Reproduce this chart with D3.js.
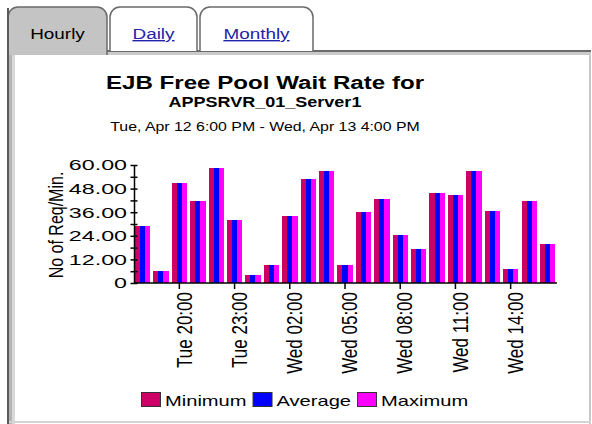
<!DOCTYPE html>
<html>
<head>
<meta charset="utf-8">
<script src="https://cdn.jsdelivr.net/npm/d3@7"></script>
<style>
  body { margin: 0; background: #fff; }
  svg { display: block; font-family: "Liberation Sans", Arial, sans-serif; }
</style>
</head>
<body>
<svg width="592" height="424"></svg>
<script>
//Chart data
const hours = ["Tue 18:00", "Tue 19:00", "Tue 20:00", "Tue 21:00", "Tue 22:00", "Tue 23:00",
    "Wed 00:00", "Wed 01:00", "Wed 02:00", "Wed 03:00", "Wed 04:00", "Wed 05:00",
    "Wed 06:00", "Wed 07:00", "Wed 08:00", "Wed 09:00", "Wed 10:00", "Wed 11:00",
    "Wed 12:00", "Wed 13:00", "Wed 14:00", "Wed 15:00", "Wed 16:00"];
const tickHours = ["Tue 20:00", "Tue 23:00", "Wed 02:00", "Wed 05:00", "Wed 08:00", "Wed 11:00", "Wed 14:00"];
const minimum = [29.0, 6.1, 51.0, 41.8, 58.3, 31.9, 3.9, 9.2, 34.2, 53.0, 56.9, 9.2, 35.9, 42.5, 24.2, 17.5, 45.6, 44.9, 56.9, 36.4, 7.0, 41.8, 19.7];
const average = [29.0, 6.1, 51.0, 41.8, 58.3, 31.9, 3.9, 9.2, 34.2, 53.0, 56.9, 9.2, 35.9, 42.5, 24.2, 17.5, 45.6, 44.9, 56.9, 36.4, 7.0, 41.8, 19.7];
const maximum = [29.0, 6.1, 51.0, 41.8, 58.3, 31.9, 3.9, 9.2, 34.2, 53.0, 56.9, 9.2, 35.9, 42.5, 24.2, 17.5, 45.6, 44.9, 56.9, 36.4, 7.0, 41.8, 19.7];
const seriesNames = ["Minimum", "Average", "Maximum"];
const seriesColors = ["#CC0066", "#0000FF", "#FF00FF"];
const yMajorTicks = [0, 12, 24, 36, 48, 60];
const yMinorTicks = [6, 18, 30, 42, 54];
const tabNames = ["Hourly", "Daily", "Monthly"];
const titleLines = ["EJB Free Pool Wait Rate for", "APPSRVR_01_Server1", "Tue, Apr 12 6:00 PM - Wed, Apr 13 4:00 PM"];

const svg = d3.select("svg");

//The original picture is stretched sideways, so widen text to match
function stretch(sel, k) {
    sel.each(function() {
        const w = this.getComputedTextLength();
        d3.select(this).attr("textLength", w * k).attr("lengthAdjust", "spacingAndGlyphs");
    });
}

//Panel frame
svg.append("rect").attr("x", 7).attr("y", 50).attr("width", 584).attr("height", 373).attr("fill", "#fff");
svg.append("rect").attr("x", 7).attr("y", 50).attr("width", 584).attr("height", 2).attr("fill", "#6a6a6a");
svg.append("rect").attr("x", 9).attr("y", 52).attr("width", 582).attr("height", 3).attr("fill", "#cacaca");
svg.append("rect").attr("x", 7).attr("y", 50).attr("width", 2).attr("height", 374).attr("fill", "#5a5a5a");
svg.append("rect").attr("x", 9).attr("y", 50).attr("width", 3).attr("height", 374).attr("fill", "#b4b4b4");
svg.append("rect").attr("x", 12).attr("y", 50).attr("width", 3).attr("height", 374).attr("fill", "#d8d8d8");
svg.append("rect").attr("x", 589).attr("y", 52).attr("width", 2).attr("height", 372).attr("fill", "#c8c8c8");
svg.append("rect").attr("x", 9).attr("y", 421).attr("width", 582).attr("height", 2).attr("fill", "#d4d4d4");

//Tabs
const tabX = [[8, 107], [110, 197], [200, 313]];
const tabG = svg.append("g");
tabNames.forEach((name, i) => {
    const [x0, x1] = tabX[i];
    const r = 10, top = 7, bottom = i === 0 ? 55 : 51;
    const p = d3.path();
    p.moveTo(x0, bottom);
    p.lineTo(x0, top + r);
    p.arcTo(x0, top, x0 + r, top, r);
    p.lineTo(x1 - r, top);
    p.arcTo(x1, top, x1, top + r, r);
    p.lineTo(x1, bottom);
    tabG.append("path")
        .attr("d", p.toString())
        .attr("fill", i === 0 ? "#c4c4c4" : "#fff")
        .attr("stroke", "#6a6a6a")
        .attr("stroke-width", 1.5);
    const t = tabG.append("text")
        .attr("x", (x0 + x1) / 2)
        .attr("y", 39)
        .attr("text-anchor", "middle")
        .attr("font-size", "14px")
        .attr("fill", i === 0 ? "#000" : "#2222aa")
        .attr("text-decoration", i === 0 ? null : "underline")
        .text(name);
    stretch(t, 1.35);
});
//Cover the left border under the selected tab
svg.append("rect").attr("x", 9).attr("y", 50).attr("width", 97).attr("height", 5).attr("fill", "#c4c4c4");
svg.append("rect").attr("x", 7).attr("y", 8).attr("width", 2).attr("height", 47).attr("fill", "#5a5a5a");

//Titles
const titleStyle = [
    {y: 89, size: "18px", weight: "bold", k: 1.34},
    {y: 107, size: "15px", weight: "bold", k: 1.2},
    {y: 131, size: "13px", weight: "normal", k: 1.22}
];
titleLines.forEach((line, i) => {
    const t = svg.append("text")
        .attr("x", 265)
        .attr("y", titleStyle[i].y)
        .attr("text-anchor", "middle")
        .attr("font-size", titleStyle[i].size)
        .attr("font-weight", titleStyle[i].weight)
        .text(line);
    stretch(t, titleStyle[i].k);
});

//Scales
const x = d3.scaleBand()
    .domain(hours)
    .range([135, 555])
    .paddingInner(0.18)
    .paddingOuter(0);

const xSeries = d3.scaleBand()
    .domain(seriesNames)
    .range([0, x.bandwidth()]);

const y = d3.scaleLinear()
    .domain([0, 60])
    .range([283, 165]);

const color = d3.scaleOrdinal().domain(seriesNames).range(seriesColors);

//Bars
const rows = hours.map((h, i) => ({hour: h, values: [minimum[i], average[i], maximum[i]]}));
const groups = svg.append("g").selectAll("g")
    .data(rows)
    .enter()
    .append("g")
    .attr("transform", d => `translate(${x(d.hour)},0)`);

groups.selectAll("rect")
    .data(d => d.values.map((v, j) => ({name: seriesNames[j], value: v})))
    .enter()
    .append("rect")
    .attr("x", d => xSeries(d.name))
    .attr("y", d => y(d.value))
    .attr("width", xSeries.bandwidth() + 0.3)
    .attr("height", d => y(0) - y(d.value))
    .attr("fill", d => color(d.name))
    .attr("shape-rendering", "crispEdges");

//X axis
const xAxis = svg.append("g")
    .attr("transform", "translate(0,283)")
    .call(d3.axisBottom(x).tickValues(tickHours).tickSize(6).tickSizeOuter(0));
xAxis.select(".domain").remove();
xAxis.selectAll(".tick line").attr("stroke", "#000").attr("stroke-width", 1.5);
xAxis.selectAll(".tick text")
    .attr("x", null)
    .attr("y", null)
    .attr("dy", "0.55em")
    .attr("transform", "translate(0,9) scale(1.3,1) rotate(-90)")
    .attr("text-anchor", "end")
    .attr("font-size", "17px")
    .attr("font-family", "Liberation Sans, Arial, sans-serif")
    .attr("fill", "#000");
svg.append("line")
    .attr("x1", 134).attr("x2", 557)
    .attr("y1", 283).attr("y2", 283)
    .attr("stroke", "#000").attr("stroke-width", 1.5);

//Y axis
const yAxis = svg.append("g")
    .attr("transform", "translate(134,0)")
    .call(d3.axisLeft(y).tickValues(yMajorTicks).tickFormat(d => d === 0 ? "0" : d3.format(".2f")(d)).tickSizeOuter(0));
yAxis.select(".domain").attr("stroke-width", 1.5);
yAxis.selectAll(".tick line").attr("x1", 3.5).attr("x2", -3.5).attr("stroke-width", 1.5);
yAxis.selectAll(".tick text")
    .attr("x", -7)
    .attr("font-size", "15px")
    .attr("font-family", "Liberation Sans, Arial, sans-serif")
    .attr("fill", "#000");
stretch(yAxis.selectAll(".tick text"), 1.55);

svg.append("g")
    .attr("transform", "translate(134,0)")
    .call(d3.axisLeft(y).tickValues(yMinorTicks).tickFormat("").tickSizeOuter(0))
    .call(g => g.select(".domain").remove())
    .selectAll(".tick line").attr("x1", 3.5).attr("x2", -3.5).attr("stroke-width", 1.5);

//Y axis label
svg.append("text")
    .attr("transform", "translate(63,225) scale(1.3,1) rotate(-90)")
    .attr("text-anchor", "middle")
    .attr("font-size", "16px")
    .text("No of Req/Min.");

//Legend
let lx = 141;
seriesNames.forEach((name, i) => {
    svg.append("rect")
        .attr("x", lx + 0.5).attr("y", 392.5)
        .attr("width", 19).attr("height", 14)
        .attr("fill", color(name))
        .attr("stroke", "#333");
    const t = svg.append("text")
        .attr("x", lx + 24)
        .attr("y", 406)
        .attr("font-size", "15px")
        .text(name);
    const w = t.node().getComputedTextLength() * 1.34;
    t.attr("textLength", w).attr("lengthAdjust", "spacingAndGlyphs");
    lx += 24 + w + 6;
});
</script>
</body>
</html>
